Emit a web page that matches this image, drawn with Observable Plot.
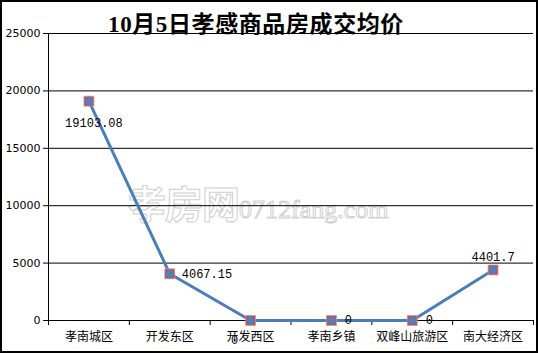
<!DOCTYPE html>
<html><head><meta charset="utf-8">
<script src="https://cdn.jsdelivr.net/npm/d3@7"></script>
<script src="https://cdn.jsdelivr.net/npm/@observablehq/plot@0.6"></script>
<style>
body{margin:0;background:#fff;}
#wrap{position:relative;width:538px;height:353px;overflow:hidden;background:#fff;}
#title{position:absolute;left:0;width:512px;top:5px;text-align:center;font:bold 23px "Liberation Serif","Noto Sans CJK SC",serif;letter-spacing:0.6px;color:#000;z-index:3;}
#wm{position:absolute;left:128px;top:174px;white-space:nowrap;color:#fff;-webkit-text-stroke:1px #d0d0d0;z-index:1;}
#wm .a{font:bold 38px "Noto Sans CJK SC",sans-serif;letter-spacing:-1px;}
#wm .b{font:26px "Liberation Serif",serif;}
#chart{position:absolute;left:0;top:0;z-index:2;}
#chart svg{background:transparent !important;}
#border{position:absolute;left:0;top:0;width:534px;height:349px;border:2px solid #000;z-index:4;pointer-events:none;}
</style></head>
<body><div id="wrap"><div id="title">10月5日孝感商品房成交均价</div><div id="wm"><span class="a">孝房网</span><span class="b">0712fang.com</span></div><div id="chart"></div><div id="border"></div></div>
<script>
const categories = ["孝南城区","开发东区","开发西区","孝南乡镇","双峰山旅游区","南大经济区"];
const values = [19103.08, 4067.15, 0, 0, 0, 4401.7];
const valueLabels = ["19103.08","4067.15","0","0","0","4401.7"];
const yTicks = [0, 5000, 10000, 15000, 20000, 25000];

const idx = categories.map((d, i) => i);
const edges = d3.range(-0.5, categories.length, 1);
const lab = (i, o) => Plot.text([i], {x: d => d, y: d => values[d], text: d => valueLabels[d],
  fontFamily: "Liberation Mono, monospace", fontSize: 12, fill: "#000", ...o});

const chart = Plot.plot({
  width: 538, height: 353,
  marginLeft: 48, marginRight: 5, marginTop: 33, marginBottom: 33,
  style: {background: "transparent", fontFamily: "DejaVu Sans, sans-serif", fontSize: "11px", color: "#000"},
  x: {domain: [-0.5, categories.length - 0.5], ticks: edges, tickFormat: () => "", tickSize: 5, label: null},
  y: {domain: [0, 25000], ticks: yTicks, tickSize: 5, tickPadding: 3, label: null, tickFormat: d => String(d)},
  marks: [
    Plot.ruleY(yTicks, {stroke: "#000", strokeWidth: 1}),
    Plot.ruleX([-0.5], {stroke: "#000"}),
    Plot.text(idx, {x: d => d, text: d => categories[d], frameAnchor: "bottom", dy: 20,
      fontFamily: "Noto Sans CJK SC, sans-serif", fontSize: 12, fill: "#000", letterSpacing: "1px"}),
    Plot.line(idx, {x: d => d, y: d => values[d], stroke: "#4a7ebb", strokeWidth: 3}),
    Plot.dot(idx, {x: d => d, y: d => values[d], symbol: "square", r: 5.6, fill: "#c0504d", stroke: "#d99694", strokeWidth: 0.8}),
    Plot.dot(idx, {x: d => d, y: d => values[d], symbol: "diamond2", r: 4.6, fill: "#4f81bd"}),
    lab(0, {dx: 5, dy: 22}),
    lab(1, {dx: 12, textAnchor: "start"}),
    lab(2, {dx: -16, dy: 20}),
    lab(3, {dx: 17, dy: 0}),
    lab(4, {dx: 17, dy: 0}),
    lab(5, {dy: -13})
  ]
});
document.getElementById("chart").appendChild(chart);
</script></body></html>
